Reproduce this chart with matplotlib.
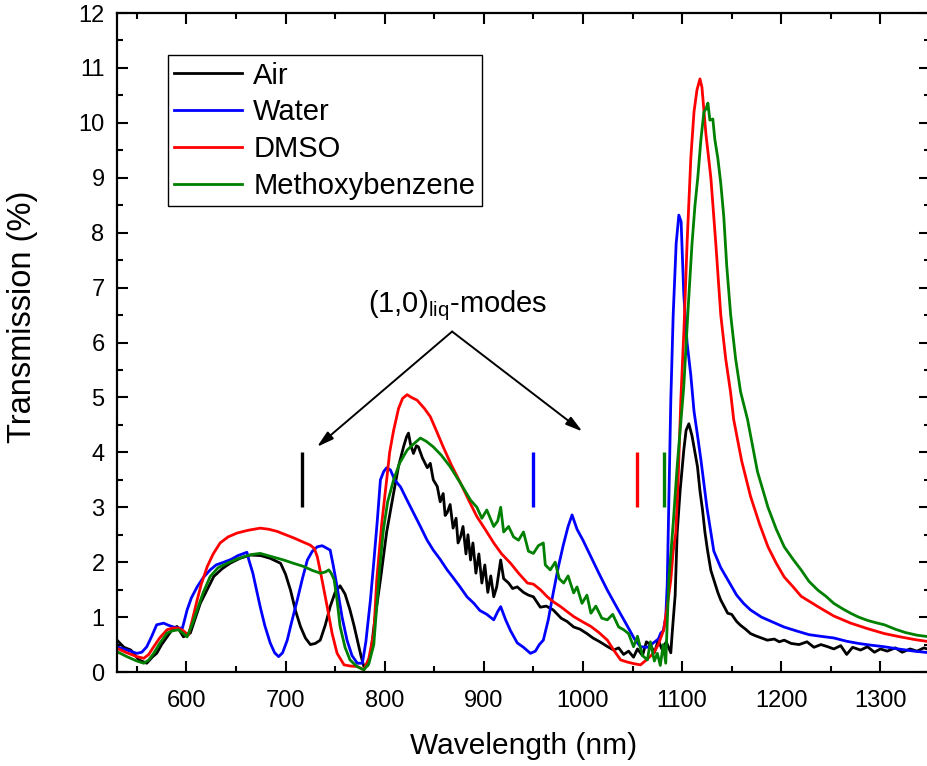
import matplotlib
matplotlib.use("Agg")
import matplotlib.pyplot as plt
from matplotlib.ticker import MultipleLocator

plt.rcParams['font.family'] = ['Liberation Sans', 'DejaVu Sans']
plt.rcParams['mathtext.fontset'] = 'custom'
plt.rcParams['mathtext.rm'] = 'Liberation Sans'
plt.rcParams['mathtext.it'] = 'Liberation Sans'

# values
air_wl = [530, 537, 544, 552, 560, 566, 570, 575, 580.5, 586, 590.5, 597, 604, 609, 614, 621,
          627.6, 636, 644, 654, 664.6, 675, 684.5, 695, 700, 705, 710, 715, 720, 725, 730, 735,
          740, 745, 750, 755, 760, 765, 769, 772.4, 776, 779, 783, 786, 790, 795.7, 802, 809,
          814, 819, 822, 824, 826, 829, 832, 834, 838, 843, 846, 849, 853, 856, 859, 861, 863, 866, 869,
          872, 874, 876.5, 879, 882, 884, 886.6, 889, 892, 895, 898, 901, 904, 907, 910, 913, 917,
          920, 925, 929, 933.7, 940, 945, 950, 957, 963, 970, 978, 984, 990.6, 997, 1004, 1010,
          1017, 1025, 1031, 1036, 1041, 1046, 1051, 1055, 1060, 1064, 1068, 1072, 1076, 1080,
          1084, 1088.6, 1090, 1093, 1095, 1098, 1101.7, 1104, 1106.8, 1110, 1113, 1115.5, 1118,
          1120.6, 1123, 1125.6, 1129, 1132, 1136, 1139, 1146, 1150, 1155, 1159, 1164, 1169,
          1174, 1180, 1186, 1193, 1198, 1203, 1210, 1218, 1226, 1233, 1240, 1247, 1253, 1260,
          1266, 1272, 1280, 1287, 1294, 1300, 1307, 1315, 1322, 1330, 1337, 1344, 1350]
air_t = [0.58, 0.45, 0.40, 0.22, 0.16, 0.28, 0.34, 0.50, 0.64, 0.78, 0.83, 0.64, 0.71, 0.98, 1.25, 1.50,
         1.74, 1.88, 1.98, 2.07, 2.13, 2.12, 2.07, 1.98, 1.78, 1.49, 1.12, 0.83, 0.62, 0.50, 0.52, 0.58,
         0.85, 1.19, 1.45, 1.57, 1.42, 1.13, 0.85, 0.58, 0.30, 0.10, 0.12, 0.35, 0.95, 1.68, 2.55, 3.26,
         3.75, 4.10, 4.28, 4.35, 4.15, 3.98, 4.12, 4.10, 3.90, 3.72, 3.80, 3.50, 3.38, 3.10, 3.25, 2.85, 2.90, 3.05, 2.62,
         2.80, 2.35, 2.46, 2.65, 2.15, 2.50, 2.04, 2.35, 1.80, 2.15, 1.62, 1.95, 1.45, 1.75, 1.37, 1.55, 2.04,
         1.70, 1.62, 1.52, 1.55, 1.45, 1.40, 1.37, 1.18, 1.20, 1.13, 0.98, 0.92, 0.82, 0.78, 0.70, 0.62,
         0.55, 0.46, 0.40, 0.44, 0.32, 0.38, 0.27, 0.42, 0.30, 0.55, 0.50, 0.35, 0.58, 0.40,
         0.55, 0.35, 0.71, 1.40, 2.53, 3.30, 4.04, 4.40, 4.52, 4.30, 4.00, 3.74, 3.30,
         2.95, 2.55, 2.22, 1.85, 1.68, 1.45, 1.31, 1.07, 1.05, 0.92, 0.85, 0.78, 0.70,
         0.66, 0.62, 0.58, 0.60, 0.55, 0.58, 0.52, 0.50, 0.55, 0.45, 0.50, 0.46, 0.42, 0.48,
         0.32, 0.45, 0.40, 0.46, 0.36, 0.42, 0.38, 0.44, 0.36, 0.42, 0.38, 0.44, 0.40]

water_wl = [530, 540, 550, 555, 560, 565, 570, 577, 582, 587, 592, 596, 600.7, 605, 610.8, 617, 624,
            630, 637.8, 645, 652, 658, 661, 663, 667, 670, 674.4, 679, 684.5, 689, 693, 697, 701.7,
            706, 711.8, 717, 722, 727, 732, 737, 741, 745, 748, 752, 757, 762, 767, 772.4, 777.5,
            781, 785.6, 789, 792.6, 795.7, 799, 802, 805.8, 810, 816, 822, 829, 836, 842.8, 849,
            856, 863, 869, 876, 883, 890, 896, 903, 910, 914, 917, 922, 927, 933.7, 940, 947, 952,
            956, 960, 965, 970, 975, 980, 985, 989, 994, 1000, 1008, 1016, 1024.6, 1035, 1045, 1052,
            1058, 1065, 1071, 1076, 1078.5, 1081, 1083.5, 1085, 1086.6, 1088.6, 1091, 1094, 1096.7,
            1099, 1101.7, 1105, 1108.8, 1112, 1116, 1119, 1125, 1132, 1139, 1146, 1155, 1162, 1169,
            1180, 1190, 1202.7, 1215, 1228, 1240, 1253, 1266, 1278, 1290, 1304, 1318, 1334, 1350]
water_t = [0.46, 0.40, 0.34, 0.36, 0.46, 0.65, 0.86, 0.89, 0.85, 0.82, 0.80, 0.80, 1.13, 1.35, 1.55, 1.72, 1.86,
           1.95, 2.00, 2.05, 2.12, 2.16, 2.18, 2.04, 1.80, 1.55, 1.19, 0.85, 0.53, 0.35, 0.28, 0.35, 0.58,
           0.90, 1.31, 1.70, 2.04, 2.20, 2.28, 2.30, 2.26, 2.22, 1.95, 1.55, 1.00, 0.58, 0.30, 0.16, 0.16,
           0.55, 1.31, 2.00, 2.77, 3.50, 3.65, 3.72, 3.68, 3.50, 3.37, 3.15, 2.90, 2.65, 2.40, 2.22,
           2.05, 1.86, 1.72, 1.55, 1.37, 1.25, 1.12, 1.05, 0.95, 1.10, 1.19, 0.95, 0.75, 0.53, 0.45, 0.34, 0.38,
           0.50, 0.58, 0.95, 1.44, 1.90, 2.30, 2.65, 2.86, 2.60, 2.40, 2.10, 1.80, 1.49, 1.15, 0.83, 0.60,
           0.46, 0.45, 0.53, 0.60, 0.71, 0.75, 1.00, 1.60, 3.13, 4.95, 6.50, 7.80, 8.32,
           8.20, 6.87, 6.00, 5.40, 4.75, 4.25, 3.86, 3.00, 2.20, 1.90, 1.68, 1.40, 1.25, 1.13,
           1.00, 0.92, 0.82, 0.75, 0.68, 0.65, 0.62, 0.56, 0.52, 0.49, 0.46, 0.42, 0.38, 0.35]

dmso_wl = [530, 540, 550, 557, 562, 567, 573, 580.5, 586, 592, 597, 602, 606, 610.8, 615, 621, 627, 634,
           642, 651, 662, 674.4, 683, 691.6, 700, 708.5, 716, 725, 729, 732, 736, 742, 747, 752, 759,
           765, 772.4, 779, 784, 789, 792, 797, 802, 805, 809, 814, 818, 822.6, 827, 832.7, 840, 846,
           852, 859, 867, 876.5, 885, 893, 902, 910, 918, 927, 935, 944, 950, 957, 964, 970, 977.5,
           984, 990.6, 999, 1008, 1016, 1024.6, 1031, 1038, 1045, 1052, 1058, 1064, 1071, 1076,
           1081.5, 1085, 1088.6, 1091, 1093.6, 1096, 1098.7, 1102, 1105, 1108.8, 1112, 1115, 1118,
           1120, 1124, 1129, 1134, 1139, 1144, 1149, 1152, 1160, 1169, 1178, 1186.6, 1195, 1203,
           1212, 1220, 1237, 1253, 1270, 1287, 1304, 1320, 1335, 1350]
dmso_t = [0.43, 0.35, 0.28, 0.25, 0.32, 0.46, 0.62, 0.77, 0.80, 0.80, 0.75, 0.67, 0.95, 1.31, 1.60, 1.92, 2.15, 2.35,
          2.46, 2.53, 2.58, 2.62, 2.60, 2.56, 2.50, 2.44, 2.38, 2.31, 2.25, 2.10, 1.75, 1.19, 0.70, 0.34, 0.13,
          0.11, 0.10, 0.04, 0.25, 0.71, 1.68, 2.70, 3.50, 4.00, 4.40, 4.80, 4.98, 5.05, 5.00, 4.95, 4.80, 4.65,
          4.40, 4.10, 3.78, 3.44, 3.12, 2.83, 2.58, 2.35, 2.15, 1.98, 1.80, 1.62, 1.60, 1.50, 1.37, 1.28, 1.19,
          1.10, 1.01, 0.92, 0.83, 0.72, 0.58, 0.40, 0.22, 0.18, 0.15, 0.13, 0.22, 0.34, 0.50,
          0.77, 1.20, 1.68, 2.20, 2.53, 3.50, 4.95, 6.30, 7.80, 9.36, 10.20, 10.60, 10.80,
          10.65, 9.80, 9.00, 7.80, 6.50, 5.70, 5.08, 4.60, 3.85, 3.20, 2.70, 2.28, 1.98, 1.73,
          1.55, 1.38, 1.19, 1.02, 0.89, 0.79, 0.70, 0.64, 0.59, 0.55]

meth_wl = [530, 540, 550, 557, 562, 567, 573, 580.5, 586, 592, 597, 600.7, 606, 610.8, 617, 624, 632, 641,
           650, 658, 666, 674.4, 686, 698, 708, 718.6, 727, 735, 740, 743.6, 746, 749, 752, 755, 760,
           765, 772, 779, 784, 789, 792, 795, 798.7, 803, 809, 815, 822.6, 829, 836, 842, 849, 857,
           866, 876, 886.6, 893, 898, 903, 910, 914, 917, 920, 925, 930, 935, 940, 945, 950, 955,
           960, 962, 967, 972, 976, 980.5, 985, 990.6, 994, 999, 1004, 1008, 1013, 1019, 1024.6,
           1030, 1036, 1041, 1046, 1051, 1055, 1060, 1065, 1068, 1072, 1075, 1078, 1081, 1083.5,
           1086.6, 1091, 1095, 1098, 1101.7, 1106, 1110, 1113, 1115.8, 1119, 1122, 1124, 1126,
           1128, 1131, 1133, 1136, 1139, 1142, 1145, 1149, 1154, 1159, 1166, 1176, 1186.6, 1195,
           1203, 1212, 1220, 1228, 1237, 1245, 1253, 1262, 1270, 1278, 1287, 1295, 1304, 1315,
           1325, 1337, 1350]
meth_t = [0.37, 0.28, 0.20, 0.16, 0.22, 0.34, 0.52, 0.71, 0.75, 0.77, 0.70, 0.64, 0.88, 1.13, 1.45, 1.74, 1.90, 1.98,
          2.05, 2.10, 2.14, 2.16, 2.10, 2.04, 1.98, 1.92, 1.85, 1.80, 1.82, 1.86, 1.80, 1.68, 1.30, 0.83, 0.45,
          0.22, 0.10, 0.04, 0.15, 0.50, 1.20, 1.90, 2.59, 3.10, 3.50, 3.80, 4.04, 4.15, 4.26, 4.20, 4.10, 3.95,
          3.74, 3.45, 3.13, 3.00, 2.80, 2.95, 2.65, 2.75, 3.00, 2.55, 2.65, 2.46, 2.40, 2.55, 2.20, 2.16, 2.30,
          2.35, 1.95, 1.86, 2.00, 1.70, 1.62, 1.75, 1.44, 1.55, 1.25, 1.40, 1.07, 1.20, 0.98, 0.95,
          1.05, 0.82, 0.77, 0.70, 0.46, 0.65, 0.30, 0.22, 0.55, 0.20, 0.34, 0.12, 0.50, 0.16,
          1.68, 2.70, 3.74, 4.40, 5.20, 6.60, 7.80, 8.50, 9.00, 9.70, 10.20, 10.25, 10.36,
          10.05, 10.07, 9.70, 9.36, 8.90, 8.30, 7.40, 6.50, 5.70, 5.10, 4.60, 3.65, 3.00, 2.60,
          2.28, 2.05, 1.86, 1.65, 1.49, 1.38, 1.25, 1.15, 1.07, 1.00, 0.94, 0.90, 0.86, 0.78,
          0.72, 0.67, 0.64]

series_labels = ['Air', 'Water', 'DMSO', 'Methoxybenzene']
series_colors = ['#000000', '#0000ff', '#ff0000', '#008000']

# (1,0)liq mode positions, nm
mode_wl = [717, 950, 1054, 1081.5]

fig = plt.figure(figsize=(9.28, 7.66), dpi=100)
ax = fig.add_axes([0.1261, 0.1227, 0.876, 0.8603])

curves = [(air_wl, air_t), (water_wl, water_t), (dmso_wl, dmso_t), (meth_wl, meth_t)]
for (wl, t), lab, c in zip(curves, series_labels, series_colors):
    ax.plot(wl, t, color=c, lw=2.0, label=lab)

for wl, c in zip(mode_wl, series_colors):
    ax.plot([wl, wl], [3, 4], color=c, lw=2.4, solid_capstyle='butt')

ax.text(874, 6.56, r'(1,0)$_{\mathrm{liq}}$-modes', fontsize=21, ha='center', va='baseline')
for tip in [(731.7, 4.1), (999.4, 4.38)]:
    ax.annotate('', xy=tip, xytext=(868, 6.2),
                arrowprops=dict(arrowstyle='-|>,head_length=1.0,head_width=0.28',
                                color='black', lw=1.4, shrinkA=0, shrinkB=0))

ax.set_xlim(530, 1350)
ax.set_ylim(0, 12)
ax.xaxis.set_major_locator(MultipleLocator(100))
ax.xaxis.set_minor_locator(MultipleLocator(50))
ax.yaxis.set_major_locator(MultipleLocator(1))
ax.yaxis.set_minor_locator(MultipleLocator(0.5))
ax.tick_params(which='both', direction='in', top=True, right=True, width=1.5)
ax.tick_params(which='major', length=8, labelsize=17)
ax.tick_params(axis='x', which='major', pad=13)
ax.tick_params(axis='y', which='major', pad=9)
ax.tick_params(which='minor', length=4)
for s in ax.spines.values():
    s.set_linewidth(1.6)

ax.set_xlabel('Wavelength (nm)', fontsize=21.5, labelpad=14)
ax.set_ylabel('Transmission (%)', fontsize=23.5)
ax.yaxis.set_label_coords(-0.097, 0.539)

leg = ax.legend(loc='upper left', bbox_to_anchor=(0.0628, 0.936), borderaxespad=0,
                fontsize=21, fancybox=False, framealpha=1, edgecolor='black',
                handlelength=2.3, handletextpad=0.4, borderpad=0.22, labelspacing=0.3)
leg.get_frame().set_linewidth(1.0)

fig.savefig('out.png', dpi=100)
